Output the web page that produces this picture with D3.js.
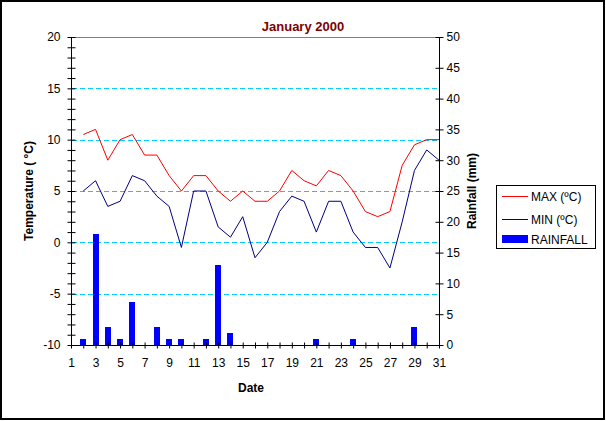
<!DOCTYPE html>
<html>
<head>
<meta charset="utf-8">
<script src="https://cdn.jsdelivr.net/npm/d3@7"></script>
<style>
  body { margin: 0; background: #fff; }
  svg text { font-family: Arial, "Liberation Sans", sans-serif; }
</style>
</head>
<body>
<svg id="chart" width="606" height="421"></svg>
<script>
(function() {
  'use strict';

  // day labels on the category axis
  var days = d3.range(1, 32);
  // readings start on day 2
  var dataDays = d3.range(2, 32);
  var maxTemp = [10.5, 11, 8, 10, 10.5, 8.5, 8.5, 6.5, 5, 6.5, 6.5, 5, 4, 5, 4,
    4, 5, 7, 6, 5.5, 7, 6.5, 5, 3, 2.5, 3, 7.5, 9.5, 10, 10];
  var minTemp = [5, 6, 3.5, 4, 6.5, 6, 4.5, 3.5, -0.5, 5, 5, 1.5, 0.5, 2.5, -1.5,
    0, 3, 4.5, 4, 1, 4, 4, 1, -0.5, -0.5, -2.5, 2, 7, 9, 8];
  var rainfall = [1, 18, 3, 1, 7, 0, 3, 1, 1, 0, 1, 13, 2, 0, 0,
    0, 0, 0, 0, 1, 0, 0, 1, 0, 0, 0, 0, 3, 0, 0];
  var tempTicks = d3.range(-10, 21, 1);
  var rainTicks = d3.range(0, 51, 5);
  var gridTemps = [15, 10, 5, 0, -5];

  var svg = d3.select('#chart');
  var left = 71, right = 439, top = 37, bottom = 345;

  var x = d3.scaleLinear().domain([1, 31]).range([left, right]);
  var yTemp = d3.scaleLinear().domain([-10, 20]).range([bottom, top]);
  var yRain = d3.scaleLinear().domain([0, 50]).range([bottom, top]);

  // outer frame
  svg.append('rect')
    .attr('x', 1).attr('y', 1).attr('width', 603).attr('height', 418)
    .attr('fill', '#fff').attr('stroke', '#000').attr('stroke-width', 2);

  // title
  svg.append('text')
    .attr('x', 303).attr('y', 31)
    .attr('text-anchor', 'middle')
    .attr('font-size', 13).attr('font-weight', 'bold')
    .attr('fill', '#800000')
    .text('January 2000');

  // plot top border
  svg.append('line')
    .attr('x1', left).attr('x2', right)
    .attr('y1', yTemp(20) + 0.5).attr('y2', yTemp(20) + 0.5)
    .attr('stroke', '#808080');

  // dashed gridlines
  svg.append('g').selectAll('line')
    .data(gridTemps)
    .join('line')
    .attr('x1', left + 1).attr('x2', right)
    .attr('y1', function(d) { return Math.round(yTemp(d)) + 0.5; })
    .attr('y2', function(d) { return Math.round(yTemp(d)) + 0.5; })
    .attr('stroke', '#00ccff')
    .attr('stroke-dasharray', '5,3');

  // rainfall bars
  svg.append('g').selectAll('rect')
    .data(dataDays.map(function(d, i) { return { day: d, value: rainfall[i] }; })
      .filter(function(d) { return d.value > 0; }))
    .join('rect')
    .attr('x', function(d) { return Math.round(x(d.day)) - 3; })
    .attr('width', 6)
    .attr('y', function(d) { return Math.round(yRain(d.value)); })
    .attr('height', function(d) { return Math.round(yRain(0)) - Math.round(yRain(d.value)); })
    .attr('fill', '#0000ff');

  // temperature lines
  var line = d3.line()
    .x(function(d) { return x(d[0]); })
    .y(function(d) { return yTemp(d[1]); });

  svg.append('path')
    .datum(dataDays.map(function(d, i) { return [d, maxTemp[i]]; }))
    .attr('d', line)
    .attr('fill', 'none').attr('stroke', '#ff0000').attr('stroke-width', 1);

  svg.append('path')
    .datum(dataDays.map(function(d, i) { return [d, minTemp[i]]; }))
    .attr('d', line)
    .attr('fill', 'none').attr('stroke', '#000080').attr('stroke-width', 1);

  // left axis: minor ticks every degree, labels every 5
  var leftAxis = svg.append('g')
    .attr('transform', 'translate(' + (left + 0.5) + ',0)')
    .call(d3.axisLeft(yTemp)
      .tickValues(tempTicks)
      .tickSize(4)
      .tickPadding(7)
      .tickFormat(function(d) { return d % 5 === 0 ? d : ''; }));
  leftAxis.selectAll('.tick line').attr('x1', 4);

  // right axis
  var rightAxis = svg.append('g')
    .attr('transform', 'translate(' + (right + 0.5) + ',0)')
    .call(d3.axisRight(yRain)
      .tickValues(rainTicks)
      .tickSize(4)
      .tickPadding(3));
  rightAxis.selectAll('.tick line').attr('x1', -4);

  // bottom axis, ticks cross the line
  var bottomAxis = svg.append('g')
    .attr('transform', 'translate(0,' + (bottom + 0.5) + ')')
    .call(d3.axisBottom(x)
      .tickValues(days)
      .tickSize(3)
      .tickPadding(10)
      .tickFormat(function(d) { return d % 2 === 1 ? d : ''; }));
  bottomAxis.selectAll('.tick line').attr('y1', -3);

  // plain domain lines, no end caps
  leftAxis.select('.domain').attr('d', 'M0,' + top + 'V' + bottom);
  rightAxis.select('.domain').attr('d', 'M0,' + top + 'V' + bottom);
  bottomAxis.select('.domain').attr('d', 'M' + left + ',0H' + right);

  svg.selectAll('.domain').attr('stroke', '#000');
  svg.selectAll('.tick line').attr('stroke', '#000');
  svg.selectAll('.tick text')
    .attr('font-size', 12)
    .attr('font-family', 'Arial, "Liberation Sans", sans-serif')
    .attr('fill', '#000');

  // axis titles
  svg.append('text')
    .attr('transform', 'translate(33,191) rotate(-90)')
    .attr('text-anchor', 'middle')
    .attr('font-size', 12).attr('font-weight', 'bold')
    .text('Temperature ( °C)');

  svg.append('text')
    .attr('transform', 'translate(476,191) rotate(-90)')
    .attr('text-anchor', 'middle')
    .attr('font-size', 12).attr('font-weight', 'bold')
    .text('Rainfall (mm)');

  svg.append('text')
    .attr('x', 251).attr('y', 392)
    .attr('text-anchor', 'middle')
    .attr('font-size', 12).attr('font-weight', 'bold')
    .text('Date');

  // legend
  var legend = svg.append('g');
  legend.append('rect')
    .attr('x', 496.5).attr('y', 185.5).attr('width', 99).attr('height', 63)
    .attr('fill', '#fff').attr('stroke', '#000');

  var legendItems = [
    { label: 'MAX (ºC)', color: '#ff0000', y: 196.5, type: 'line' },
    { label: 'MIN (ºC)', color: '#000080', y: 219.5, type: 'line' },
    { label: 'RAINFALL', color: '#0000ff', y: 239.5, type: 'bar' }
  ];
  legendItems.forEach(function(item) {
    if (item.type === 'line') {
      legend.append('line')
        .attr('x1', 502).attr('x2', 528)
        .attr('y1', item.y).attr('y2', item.y)
        .attr('stroke', item.color);
    } else {
      legend.append('rect')
        .attr('x', 502).attr('y', item.y - 4.5).attr('width', 26).attr('height', 8)
        .attr('fill', item.color);
    }
    legend.append('text')
      .attr('x', 531).attr('y', item.y + 4.5)
      .attr('font-size', 12)
      .text(item.label);
  });
})();
</script>
</body>
</html>
